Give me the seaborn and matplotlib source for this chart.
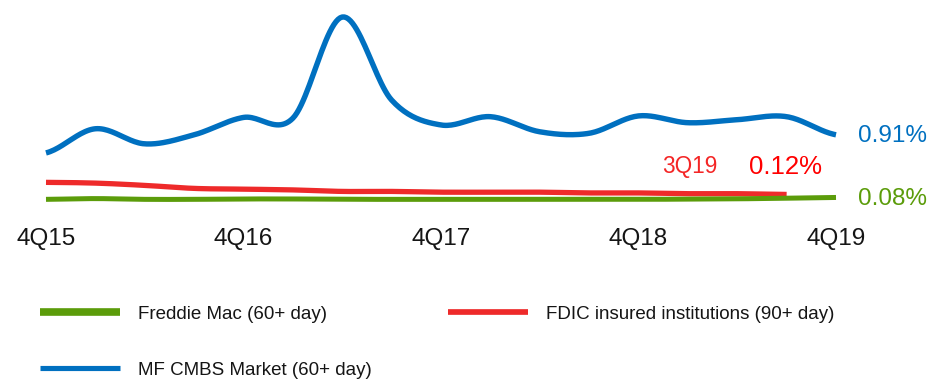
import numpy as np
import pandas as pd
import seaborn as sns
import matplotlib
matplotlib.use("Agg")
import matplotlib.pyplot as plt
from matplotlib.lines import Line2D

# Quarterly delinquency rates (%)
quarters = ["4Q15", "1Q16", "2Q16", "3Q16", "4Q16", "1Q17", "2Q17", "3Q17", "4Q17",
            "1Q18", "2Q18", "3Q18", "4Q18", "1Q19", "2Q19", "3Q19", "4Q19"]
cmbs = [0.67, 0.99, 0.79, 0.91, 1.14, 1.13, 2.47, 1.37, 1.04,
        1.15, 0.95, 0.93, 1.16, 1.07, 1.11, 1.15, 0.91]
fdic = [0.28, 0.27, 0.24, 0.20, 0.19, 0.18, 0.16, 0.16, 0.15,
        0.15, 0.15, 0.14, 0.14, 0.13, 0.13, 0.12]
freddie = [0.055, 0.065, 0.055, 0.055, 0.06, 0.06, 0.055, 0.055, 0.055,
           0.055, 0.055, 0.055, 0.055, 0.058, 0.062, 0.07, 0.08]
tick_labels = ["4Q15", "4Q16", "4Q17", "4Q18", "4Q19"]
series_labels = ["Freddie Mac (60+ day)", "FDIC insured institutions (90+ day)",
                 "MF CMBS Market (60+ day)"]

BLUE = "#0070C0"
RED = "#EE2A2A"
GREEN = "#5B9C0A"
INK = "#151515"

sns.set_theme(style="white")
plt.rcParams["font.family"] = ["Liberation Sans", "DejaVu Sans"]


def smooth(values, steps=24):
    """Catmull-Rom curve through the quarterly values (spreadsheet-style smoothed line)."""
    y = np.asarray(values, dtype=float)
    n = len(y)
    xs, ys = [], []
    for i in range(n - 1):
        p0 = y[i - 1] if i > 0 else y[i]
        p1, p2 = y[i], y[i + 1]
        p3 = y[i + 2] if i + 2 < n else y[i + 1]
        t = np.linspace(0, 1, steps, endpoint=(i == n - 2))
        seg = 0.5 * ((2 * p1) + (-p0 + p2) * t + (2 * p0 - 5 * p1 + 4 * p2 - p3) * t ** 2
                     + (-p0 + 3 * p1 - 3 * p2 + p3) * t ** 3)
        xs.append(i + t)
        ys.append(seg)
    return pd.DataFrame({"q": np.concatenate(xs), "rate": np.concatenate(ys)})


fig = plt.figure(figsize=(9.33, 3.82), dpi=100)
ax = fig.add_axes([46 / 933, 1 - 203.5 / 382, 790 / 933, 2.6 * 75.5 / 382])

common = dict(ax=ax, sort=False, estimator=None, legend=False, solid_capstyle="butt", clip_on=False)
sns.lineplot(data=smooth(freddie), x="q", y="rate", color=GREEN, lw=3.6, zorder=3, **common)
sns.lineplot(data=smooth(fdic), x="q", y="rate", color=RED, lw=3.8, zorder=2, **common)
sns.lineplot(data=smooth(cmbs), x="q", y="rate", color=BLUE, lw=3.9, zorder=4, **common)

ax.set_xlim(0, len(quarters) - 1)
ax.set_ylim(0, 2.6)
ax.set_xticks([quarters.index(q) for q in tick_labels])
ax.set_xticklabels(tick_labels, fontsize=17.5, color=INK)
ax.set_yticks([])
ax.tick_params(axis="x", length=0, pad=18)
ax.set_xlabel("")
ax.set_ylabel("")
for s in ax.spines.values():
    s.set_visible(False)

# End-of-series value labels
last = len(quarters) - 1
ax.annotate(f"{cmbs[-1]:.2f}%", xy=(last, cmbs[-1]), xytext=(16, -1), textcoords="offset points",
            va="center", ha="left", fontsize=17.5, color=BLUE, annotation_clip=False)
ax.annotate(f"{freddie[-1]:.2f}%", xy=(last, freddie[-1]), xytext=(16, -1), textcoords="offset points",
            va="center", ha="left", fontsize=17.5, color=GREEN, annotation_clip=False)
ax.annotate(quarters[len(fdic) - 1], xy=(len(fdic) - 1, fdic[-1]), xytext=(-90, 20),
            textcoords="offset points", va="center", ha="left", fontsize=16.3, color="#F42626")
ax.annotate(f"{fdic[-1]:.2f}%", xy=(len(fdic) - 1, fdic[-1]), xytext=(-27, 20),
            textcoords="offset points", va="center", ha="left", fontsize=18.5, color="#FF0000")

# Legend entries, each anchored at its own slot
fs = 13.5
legend_font = {"family": ["Liberation Sans", "DejaVu Sans"], "size": fs}
handles = [Line2D([], [], color=GREEN, lw=5.5, solid_capstyle="butt"),
           Line2D([], [], color=RED, lw=4.1, solid_capstyle="butt"),
           Line2D([], [], color=BLUE, lw=3.7, solid_capstyle="butt")]
slots = [(39.5, 314), (447.5, 314), (39.5, 370)]
for h, lab, (px, py) in zip(handles, series_labels, slots):
    leg = fig.legend([h], [lab], loc="center left", bbox_to_anchor=(px / 933, 1 - py / 382),
                     frameon=False, prop=legend_font, borderpad=0, borderaxespad=0,
                     handlelength=57.6 / fs, handletextpad=13.5 / fs)
    for t in leg.get_texts():
        t.set_color(INK)

fig.savefig("out.png", dpi=100)
